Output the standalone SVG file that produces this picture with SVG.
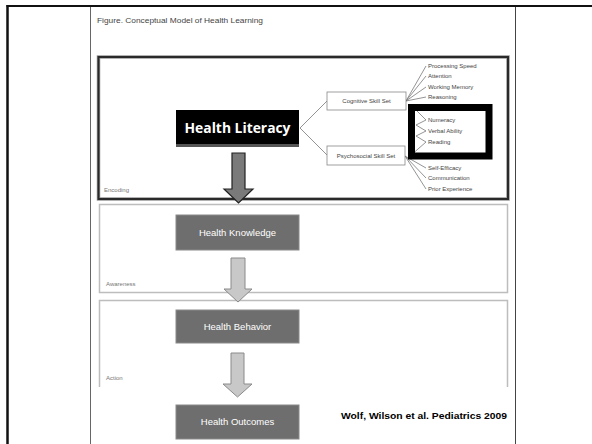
<svg xmlns="http://www.w3.org/2000/svg" width="592" height="444" viewBox="0 0 592 444">
<style>
.fig{font-family:"Liberation Sans",Arial,sans-serif;fill:#444}
.sm{font-family:"Liberation Sans",Arial,sans-serif;font-size:6px;fill:#444}
.lbl{font-family:"Liberation Sans",Arial,sans-serif;font-size:6px;fill:#777}
.gbox{fill:#6e6e6e;stroke:#8a8a8a;stroke-width:1}
.gtxt{font-family:"Liberation Sans",Arial,sans-serif;font-size:9.5px;fill:#fff;text-anchor:middle}
.ln{stroke:#666;stroke-width:0.7;fill:none}
.stage{fill:none;stroke:#bdbdbd;stroke-width:1.5}
</style>
<rect width="592" height="444" fill="#fff"/>
<!-- slide frame -->
<line x1="6.5" y1="6" x2="592" y2="6" stroke="#111" stroke-width="2"/>
<line x1="7.5" y1="5" x2="7.5" y2="444" stroke="#111" stroke-width="2.5"/>
<line x1="90.5" y1="7" x2="90.5" y2="444" stroke="#666" stroke-width="1"/>
<line x1="515.5" y1="7" x2="515.5" y2="444" stroke="#444" stroke-width="1"/>
<text class="fig" x="97" y="23" font-size="8" textLength="166" lengthAdjust="spacingAndGlyphs">Figure. Conceptual Model of Health Learning</text>

<!-- stage boxes -->
<g id="encoding">
<rect x="98.5" y="57" width="409.5" height="142" fill="none" stroke="#999" stroke-width="3.5"/>
<rect x="98.5" y="57" width="409.5" height="142" fill="none" stroke="#2a2a2a" stroke-width="2"/>
<text class="lbl" x="104" y="192">Encoding</text>
</g>
<g id="awareness">
<rect x="99.5" y="204.5" width="408" height="88" class="stage"/>
<text class="lbl" x="106" y="286" font-size="5">Awareness</text>
</g>
<g id="action">
<path d="M99.5 387 V300.5 H507.5 V387" class="stage"/>
<text class="lbl" x="106" y="380">Action</text>
</g>

<g id="connectors">
<polyline class="ln" points="327,101 300,128 327,155"/>
<line class="ln" x1="406" y1="101" x2="426" y2="66"/>
<line class="ln" x1="406" y1="101" x2="426" y2="76"/>
<line class="ln" x1="406" y1="101" x2="426" y2="87"/>
<line class="ln" x1="406" y1="101" x2="426" y2="97"/>
<polyline class="ln" points="410,104 426,120 416,125 426,131 416,136 426,142 410,156"/>
<line class="ln" x1="405" y1="156" x2="426" y2="168"/>
<line class="ln" x1="405" y1="156" x2="426" y2="178"/>
<line class="ln" x1="405" y1="156" x2="426" y2="189"/>
<path d="M232 153 H245 V189 H253 L238.5 203 L224 189 H232 Z" fill="#7a7a7a" stroke="#222" stroke-width="1.2"/>
<path d="M231 258 H245 V289 H252 L238 302 L224 289 H231 Z" fill="#c8c8c8" stroke="#8a8a8a" stroke-width="1"/>
<path d="M231 353 H244 V384 H252 L237.5 397 L223 384 H231 Z" fill="#c8c8c8" stroke="#8a8a8a" stroke-width="1"/>
</g>

<g id="health-literacy">
<rect x="176" y="111" width="123" height="36" fill="#555"/>
<rect x="176" y="110" width="123" height="34" fill="#000"/>
<text x="237.5" y="133" font-family="'Open Sans','Liberation Sans',sans-serif" font-size="14" font-weight="bold" fill="#fff" text-anchor="middle" textLength="106" lengthAdjust="spacingAndGlyphs">Health Literacy</text>
</g>
<g id="cognitive">
<rect x="327" y="92" width="79" height="18" fill="#fff" stroke="#888" stroke-width="0.8"/>
<text class="sm" x="366.5" y="103" text-anchor="middle">Cognitive Skill Set</text>
</g>
<g id="psychosocial">
<rect x="327" y="146" width="78" height="19" fill="#fff" stroke="#888" stroke-width="0.8"/>
<text class="sm" x="366" y="157.5" text-anchor="middle">Psychosocial Skill Set</text>
</g>
<g id="cognitive-items">
<text class="sm" x="428" y="68">Processing Speed</text>
<text class="sm" x="428" y="78">Attention</text>
<text class="sm" x="428" y="89">Working Memory</text>
<text class="sm" x="428" y="99">Reasoning</text>
</g>
<g id="literacy-skills">
<rect x="411.5" y="107.5" width="77.5" height="48.5" fill="none" stroke="#000" stroke-width="7"/>
<text class="sm" x="428" y="122">Numeracy</text>
<text class="sm" x="428" y="133">Verbal Ability</text>
<text class="sm" x="428" y="144">Reading</text>
</g>
<g id="psychosocial-items">
<text class="sm" x="428" y="170">Self-Efficacy</text>
<text class="sm" x="428" y="180">Communication</text>
<text class="sm" x="428" y="191">Prior Experience</text>
</g>
<g id="health-knowledge">
<rect x="176" y="215" width="123" height="35" class="gbox"/>
<text class="gtxt" x="237.5" y="236">Health Knowledge</text>
</g>
<g id="health-behavior">
<rect x="176" y="310" width="123" height="33" class="gbox"/>
<text class="gtxt" x="237.5" y="330">Health Behavior</text>
</g>
<g id="health-outcomes">
<rect x="176" y="405" width="123" height="34" class="gbox"/>
<text class="gtxt" x="237.5" y="425">Health Outcomes</text>
</g>
<text x="341" y="419" font-family="'Liberation Sans',Arial,sans-serif" font-size="8.5" font-weight="bold" fill="#000" textLength="166" lengthAdjust="spacingAndGlyphs">Wolf, Wilson et al. Pediatrics 2009</text>
</svg>
